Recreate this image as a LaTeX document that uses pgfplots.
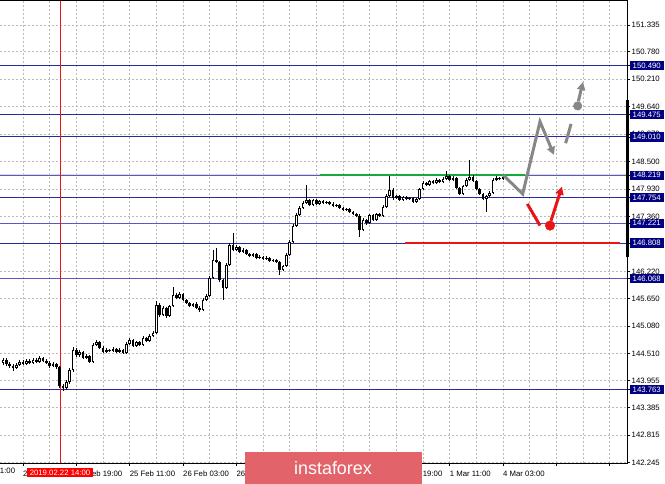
\documentclass[border=0pt]{standalone}
\usepackage{fontspec}
\setmainfont{Liberation Sans}
\usepackage{pgfplots}
\pgfplotsset{compat=1.18}
\usepackage{pgfplotstable}
\usetikzlibrary{arrows.meta}

\definecolor{levdark}{RGB}{40,40,160}
\definecolor{levmid}{RGB}{90,90,190}
\definecolor{boxnavy}{RGB}{0,0,128}
\definecolor{gridc}{RGB}{185,185,185}
\definecolor{grn}{RGB}{20,170,60}
\definecolor{redl}{RGB}{235,20,20}
\definecolor{arrg}{RGB}{135,135,135}
\definecolor{wm}{RGB}{226,100,106}

% hourly candles: bar index (0 = 22 Feb 03:00), open, high, low, close
\pgfplotstableread{
i o h l c
-6 144.320 144.420 144.280 144.382
-5 144.382 144.410 144.260 144.299
-4 144.299 144.330 144.220 144.258
-3 144.258 144.290 144.150 144.216
-2 144.216 144.310 144.190 144.279
-1 144.279 144.370 144.250 144.341
0 144.341 144.380 144.270 144.299
1 144.299 144.390 144.270 144.361
2 144.361 144.400 144.290 144.320
3 144.320 144.410 144.300 144.382
4 144.382 144.420 144.310 144.341
5 144.341 144.470 144.320 144.424
6 144.424 144.450 144.330 144.361
7 144.361 144.390 144.290 144.320
8 144.320 144.350 144.220 144.258
9 144.258 144.330 144.230 144.299
10 144.299 144.320 144.200 144.237
11 144.237 144.260 143.800 143.843
12 143.843 143.880 143.740 143.801
13 143.801 143.960 143.760 143.925
14 143.925 144.210 143.890 144.175
15 144.175 144.650 144.140 144.590
16 144.590 144.620 144.450 144.486
17 144.486 144.580 144.440 144.548
18 144.548 144.570 144.390 144.424
19 144.424 144.500 144.400 144.465
20 144.465 144.490 144.310 144.341
21 144.341 144.730 144.320 144.694
22 144.694 144.800 144.660 144.756
23 144.756 144.770 144.600 144.631
24 144.631 144.660 144.520 144.548
25 144.548 144.620 144.520 144.590
26 144.590 144.610 144.540 144.569
27 144.569 144.640 144.550 144.610
28 144.610 144.630 144.520 144.548
29 144.548 144.620 144.530 144.590
30 144.590 144.610 144.500 144.527
31 144.527 144.750 144.510 144.714
32 144.714 144.830 144.690 144.797
33 144.797 144.820 144.650 144.672
34 144.672 144.780 144.650 144.756
35 144.756 144.770 144.670 144.694
36 144.694 144.870 144.670 144.839
37 144.839 144.860 144.750 144.776
38 144.776 144.910 144.750 144.880
39 144.880 144.980 144.860 144.942
40 144.942 145.600 144.920 145.523
41 145.523 145.560 145.280 145.316
42 145.316 145.500 145.290 145.461
43 145.461 145.480 145.260 145.295
44 145.295 145.530 145.270 145.503
45 145.503 145.900 145.480 145.731
46 145.731 145.770 145.640 145.669
47 145.669 145.800 145.650 145.752
48 145.752 145.770 145.600 145.627
49 145.627 145.650 145.540 145.565
50 145.565 145.590 145.470 145.503
51 145.503 145.570 145.480 145.544
52 145.544 145.580 145.430 145.461
53 145.461 145.490 145.380 145.420
54 145.420 145.660 145.400 145.627
55 145.627 145.750 145.600 145.710
56 145.710 146.120 145.690 146.083
57 146.083 146.670 146.060 146.457
58 146.457 146.710 146.390 146.416
59 146.416 146.440 146.000 146.042
60 146.042 146.070 145.630 145.876
61 145.876 146.390 145.850 146.353
62 146.353 146.800 146.330 146.769
63 146.769 147.020 146.640 146.665
64 146.665 146.760 146.640 146.727
65 146.727 146.750 146.600 146.624
66 146.624 146.700 146.600 146.665
67 146.665 146.690 146.560 146.582
68 146.582 146.610 146.510 146.541
69 146.541 146.610 146.520 146.582
70 146.582 146.600 146.470 146.499
71 146.499 146.550 146.480 146.520
72 146.520 146.540 146.450 146.478
73 146.478 146.530 146.460 146.499
74 146.499 146.520 146.410 146.437
75 146.437 146.480 146.420 146.457
76 146.457 146.470 146.390 146.416
77 146.416 146.440 146.150 146.250
78 146.250 146.360 146.220 146.333
79 146.333 146.600 146.310 146.561
80 146.561 146.870 146.540 146.831
81 146.831 147.200 146.810 147.163
82 147.163 147.430 147.140 147.391
83 147.391 147.570 147.360 147.537
84 147.537 147.680 147.510 147.641
85 147.641 148.010 147.620 147.703
86 147.703 147.730 147.570 147.599
87 147.599 147.730 147.580 147.703
88 147.703 147.730 147.590 147.620
89 147.620 147.710 147.600 147.682
90 147.682 147.700 147.610 147.641
91 147.641 147.690 147.620 147.662
92 147.662 147.690 147.590 147.620
93 147.620 147.650 147.550 147.578
94 147.578 147.620 147.560 147.599
95 147.599 147.620 147.510 147.537
96 147.537 147.560 147.470 147.495
97 147.495 147.540 147.470 147.516
98 147.516 147.540 147.430 147.454
99 147.454 147.480 147.380 147.412
100 147.412 147.440 147.340 147.371
101 147.371 147.400 146.940 147.080
102 147.080 147.320 147.050 147.288
103 147.288 147.310 147.190 147.225
104 147.225 147.420 147.200 147.391
105 147.391 147.410 147.260 147.288
106 147.288 147.440 147.270 147.412
107 147.412 147.430 147.340 147.371
108 147.371 147.590 147.350 147.558
109 147.558 147.820 147.530 147.786
110 147.786 148.200 147.760 147.910
111 147.910 147.940 147.710 147.744
112 147.744 147.810 147.720 147.786
113 147.786 147.810 147.680 147.703
114 147.703 147.790 147.680 147.765
115 147.765 147.790 147.700 147.724
116 147.724 147.770 147.700 147.744
117 147.744 147.770 147.640 147.662
118 147.662 147.750 147.640 147.724
119 147.724 147.960 147.700 147.931
120 147.931 148.090 147.910 148.055
121 148.055 148.080 147.990 148.014
122 148.014 148.120 147.990 148.097
123 148.097 148.120 148.030 148.055
124 148.055 148.150 148.030 148.118
125 148.118 148.140 148.050 148.076
126 148.076 148.170 148.050 148.139
127 148.139 148.310 148.110 148.201
128 148.201 148.230 148.090 148.118
129 148.118 148.190 148.090 148.159
130 148.159 148.180 147.930 147.952
131 147.952 147.980 147.800 147.827
132 147.827 148.020 147.800 147.993
133 147.993 148.150 147.970 148.118
134 148.118 148.530 148.090 148.180
135 148.180 148.210 148.070 148.097
136 148.097 148.120 147.900 147.931
137 147.931 147.960 147.800 147.827
138 147.827 147.850 147.700 147.724
139 147.724 147.810 147.450 147.786
140 147.786 147.880 147.760 147.848
141 147.848 148.150 147.820 148.118
142 148.118 148.190 148.090 148.159
143 148.159 148.180 148.110 148.139
144 148.139 148.210 148.120 148.180
}\candles

\begin{document}
\begin{tikzpicture}
\begin{axis}[
    scale only axis,
    width=627bp, height=463bp,
    xmin=-6.9, xmax=181.2,
    ymin=142.24, ymax=151.854,
    axis line style={draw=none},
    tick align=outside,
    major tick length=2.5bp,
    minor tick length=0pt,
    tick style={black, line width=0.8bp},
    xtick pos=left, ytick pos=right,
    yticklabel pos=right,
    xtick={0,16,...,176},
    xticklabels={22 Feb 03:00, 22 Feb 19:00, 25 Feb 11:00, 26 Feb 03:00, 26 Feb 19:00, 27 Feb 11:00, 28 Feb 03:00, 28 Feb 19:00, 1 Mar 11:00, 4 Mar 03:00, {}, {}},
    minor xtick={8,24,...,168},
    ytick={151.335,150.780,150.210,149.640,149.070,148.500,147.930,147.360,146.790,146.220,145.650,145.080,144.510,143.955,143.385,142.815,142.245},
    xmajorgrids, xminorgrids, ymajorgrids,
    major grid style={gridc, line width=0.8bp, dash pattern=on 2bp off 2bp},
    minor grid style={gridc, line width=0.8bp, dash pattern=on 2bp off 2bp},
    tick label style={font=\fontsize{7.8}{9}\selectfont},
    /pgf/number format/assume math mode=true,
    yticklabel style={/pgf/number format/fixed, /pgf/number format/fixed zerofill,
        /pgf/number format/precision=3, anchor=west, inner sep=0pt, xshift=2bp},
    xticklabel style={anchor=north west, inner sep=0pt, yshift=-5bp},
    extra y ticks={150.490,149.475,149.010,148.219,147.754,147.221,146.808,146.068,143.763},
    extra y tick style={grid=none, major grid style={draw=none},
        yticklabel style={fill=boxnavy, text=white, inner xsep=3.2bp, inner ysep=1.8bp, xshift=-2.2bp}},
]
% level lines
\addplot[gray!30, line width=2.2bp, forget plot] coordinates {(-7,148.219) (182,148.219)};
\addplot[levdark, line width=1bp, forget plot] coordinates {(-7,150.490) (182,150.490)};
\addplot[levdark, line width=1bp, forget plot] coordinates {(-7,149.475) (182,149.475)};
\addplot[levdark, line width=1bp, forget plot] coordinates {(-7,149.010) (182,149.010)};
\addplot[levmid, line width=1bp, forget plot] coordinates {(-7,148.219) (182,148.219)};
\addplot[levdark, line width=1bp, forget plot] coordinates {(-7,147.754) (182,147.754)};
\addplot[levmid, line width=1bp, forget plot] coordinates {(-7,147.221) (182,147.221)};
\addplot[levdark, line width=1bp, forget plot] coordinates {(-7,146.808) (182,146.808)};
\addplot[levmid, line width=1bp, forget plot] coordinates {(-7,146.068) (182,146.068)};
\addplot[levdark, line width=1bp, forget plot] coordinates {(-7,143.763) (182,143.763)};
% red time line at 22 Feb 14:00
\addplot[redl, line width=0.9bp, forget plot] coordinates {(11.1,142.0) (11.1,152.0)};
% support / resistance
\addplot[grn, line width=2.8bp, forget plot] coordinates {(89.1,148.219) (150.6,148.219)};
\addplot[redl, line width=2.8bp, forget plot] coordinates {(114.6,146.808) (179.1,146.808)};

% candles: wicks, bodies, hollow bull bodies
\addplot[draw=none, mark=none, forget plot,
    error bars/.cd, y dir=plus, y explicit, error mark=none,
    error bar style={draw=black, line width=1bp}]
    table[x=i, y=l, y error plus expr=\thisrow{h}-\thisrow{l}] {\candles};
\addplot[draw=none, mark=none, forget plot,
    error bars/.cd, y dir=plus, y explicit, error mark=none,
    error bar style={draw=black, line width=2.9bp}]
    table[x=i, y expr={min(\thisrow{o},\thisrow{c})},
          y error plus expr={max(abs(\thisrow{c}-\thisrow{o}),0.024)}] {\candles};
\addplot[draw=none, mark=none, forget plot,
    error bars/.cd, y dir=plus, y explicit, error mark=none,
    error bar style={draw=white, line width=0.9bp}]
    table[x=i, y expr={\thisrow{c}>\thisrow{o}+0.05 ? \thisrow{o}+0.02 : nan},
          y error plus expr={\thisrow{c}-\thisrow{o}-0.04}] {\candles};

% forecast arrows
\addplot[arrg, line width=3bp, forget plot, -{Triangle[length=8bp,width=8bp]}]
    coordinates {(144,148.222) (149.9,147.827) (155.1,149.328) (159.3,148.637)};
\addplot[arrg, line width=3bp, forget plot] coordinates {(162.8,148.880) (164.4,149.280)};
\addplot[arrg, only marks, mark=*, mark size=4.3bp, forget plot] coordinates {(166.4,149.654)};
\addplot[arrg, line width=3bp, forget plot, -{Triangle[length=8bp,width=8bp]}]
    coordinates {(166.6,149.75) (168.0,150.152)};
\addplot[redl, line width=3bp, forget plot] coordinates {(151.3,147.620) (155.1,147.170)};
\addplot[redl, only marks, mark=*, mark size=4.8bp, forget plot] coordinates {(158.1,147.170)};
\addplot[redl, line width=3bp, forget plot, -{Triangle[length=8bp,width=8bp]}]
    coordinates {(158.4,147.27) (161.7,147.979)};

\coordinate (tl) at (rel axis cs:0,1);
\coordinate (tr) at (rel axis cs:1,1);
\coordinate (br) at (rel axis cs:1,0);
\coordinate (bl) at (rel axis cs:0,0);
\coordinate (sb1) at (rel axis cs:1,0.784);
\coordinate (sb2) at (rel axis cs:1,0.445);
\coordinate (t0) at (axis cs:-16,142.24);
\coordinate (rt) at (axis cs:11.1,142.24);
\coordinate (wa) at (axis cs:66.6,142.472);
\coordinate (wb) at (axis cs:119.7,141.7);
\coordinate (wc) at (axis cs:93.0,142.14);
\end{axis}
\draw[black, line width=0.9bp] (tl) -- (tr) -- (br) -- (bl);
\draw[black, line width=3bp] (sb1) -- (sb2);
\node[anchor=north west, inner sep=0pt, yshift=-5bp, font=\fontsize{7.8}{9}\selectfont] at (t0) {21 Feb 11:00};
\node[anchor=north, fill=red, text=white, inner xsep=3.2bp, inner ysep=1.5bp, yshift=-5bp,
      font=\fontsize{7.8}{9}\selectfont] at (rt) {2019.02.22 14:00};
\fill[wm] (wa) rectangle (wb);
\node[text=white, font=\fontsize{18}{20}\selectfont] at (wc) {instaforex};
\pgfresetboundingbox
\path[use as bounding box] (tl) rectangle ([xshift=665bp, yshift=-484bp]tl);
\end{tikzpicture}
\end{document}
